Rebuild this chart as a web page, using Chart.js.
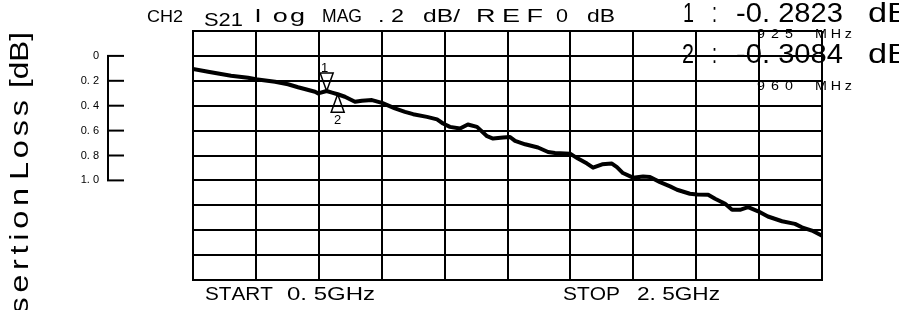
<!DOCTYPE html>
<html>
<head>
<meta charset="utf-8">
<script src="https://cdn.jsdelivr.net/npm/chart.js@4.4.1/dist/chart.umd.min.js"></script>
<style>
  html, body { margin: 0; padding: 0; background: #fff; }
  #wrap { width: 899px; height: 310px; }
</style>
</head>
<body>
<div id="wrap"><canvas id="chart" width="899" height="310"></canvas></div>
<script>
// S21 trace (frequency in GHz, level in dB)
var freqGHz = [
  0.500, 0.548, 0.621, 0.675, 0.700, 0.761, 0.802, 0.834, 0.888, 0.898,
  0.925, 0.942, 0.960, 0.983, 1.015, 1.037, 1.069, 1.101, 1.142, 1.174,
  1.200, 1.244, 1.276, 1.295, 1.317, 1.349, 1.374, 1.403, 1.435, 1.454,
  1.486, 1.508, 1.524, 1.556, 1.597, 1.629, 1.651, 1.699, 1.724, 1.753,
  1.772, 1.801, 1.832, 1.848, 1.867, 1.899, 1.931, 1.953, 1.985, 2.017,
  2.039, 2.080, 2.103, 2.138, 2.160, 2.192, 2.214, 2.239, 2.265, 2.297,
  2.328, 2.373, 2.414, 2.436, 2.468, 2.500
];
var s21dB = [
  -0.105, -0.127, -0.159, -0.175, -0.188, -0.207, -0.228, -0.252, -0.288, -0.301,
  -0.282, -0.295, -0.308, -0.328, -0.369, -0.360, -0.355, -0.377, -0.422, -0.449,
  -0.468, -0.490, -0.510, -0.543, -0.570, -0.583, -0.551, -0.570, -0.645, -0.664,
  -0.656, -0.651, -0.683, -0.710, -0.736, -0.772, -0.780, -0.785, -0.825, -0.865,
  -0.898, -0.871, -0.865, -0.893, -0.941, -0.978, -0.968, -0.973, -1.014, -1.048,
  -1.075, -1.107, -1.113, -1.115, -1.148, -1.188, -1.236, -1.236, -1.215, -1.248,
  -1.290, -1.328, -1.349, -1.377, -1.403, -1.444
];

// markers
var markerFreq = [0.925, 0.960];
var markerVal = [-0.2823, -0.3084];
var markerName = ['1', '2'];

// side scale bar (insertion loss)
var lossTicks = [0, 0.2, 0.4, 0.6, 0.8, 1.0];
var lossLabels = ['0', '0. 2', '0. 4', '0. 6', '0. 8', '1. 0'];

var FONT = '"Liberation Sans", Arial, sans-serif';

// text laid out like the printout: [text, left, right, baseline, size]
var headerText = [
  ['CH2', 147, 183, 22, 17],
  ['S21', 204, 243, 26, 18],
  ['l og', 255, 305, 22, 18],
  ['MAG', 322, 362, 22, 18],
  ['. 2', 378, 404, 22, 18],
  ['dB/', 423, 460, 22, 18],
  ['REF', 476, 543, 22, 18],
  ['0', 556, 568, 22, 18],
  ['dB', 587, 615, 22, 18],
  ['1', 683, 694, 22, 28],
  [':', 712, 717, 22, 28],
  ['-0. 2823', 736, 843, 22, 28],
  ['dB', 868, 910, 22, 28],
  ['925', 757, 793, 38, 13],
  ['MHz', 815, 852, 38, 13],
  ['2', 682, 694, 63, 28],
  [':', 712, 717, 63, 28],
  ['-0. 3084', 736, 843, 63, 28],
  ['dB', 868, 910, 63, 28],
  ['960', 757, 793, 90, 13],
  ['MHz', 815, 852, 90, 13],
  ['START', 205, 273, 300, 18],
  ['0. 5GHz', 287, 375, 300, 18],
  ['STOP', 563, 620, 300, 18],
  ['2. 5GHz', 637, 720, 300, 18]
];

// rotated title, word by word: [word, top y, bottom y]
var titleWords = [
  ['Insertion', 188, 350],
  ['Loss', 100, 180],
  ['[dB]', 32, 88]
];

// wide instrument font: stretch glyphs, spread the rest as gaps
function spaced(ctx, text, x0, x1, y, kmax) {
  var chars = text.split('');
  var w = chars.map(function (c) { return ctx.measureText(c).width; });
  var total = w.reduce(function (a, b) { return a + b; }, 0);
  var k = Math.min(kmax || 1.35, (x1 - x0) / total);
  var gap = chars.length > 1 ? (x1 - x0 - total * k) / (chars.length - 1) : 0;
  var x = x0;
  chars.forEach(function (c, i) {
    ctx.save();
    ctx.translate(x, y);
    ctx.scale(k, 1);
    ctx.fillText(c, 0, 0);
    ctx.restore();
    x += w[i] * k + gap;
  });
}

var printout = {
  id: 'printout',
  afterDraw: function (chart) {
    var ctx = chart.ctx;
    var xs = chart.scales.x, ys = chart.scales.y;
    ctx.save();
    ctx.fillStyle = '#000';
    ctx.strokeStyle = '#000';
    ctx.textBaseline = 'alphabetic';
    ctx.textAlign = 'left';

    headerText.forEach(function (t) {
      ctx.font = t[4] + 'px ' + FONT;
      spaced(ctx, t[0], t[1], t[2], t[3], t[4] < 14 ? 1.1 : 1.5);
    });

    // markers: 1 points down onto the trace, 2 points up
    ctx.lineWidth = 1.5;
    ctx.font = '13px ' + FONT;
    ctx.textAlign = 'center';
    markerFreq.forEach(function (f, i) {
      var px = xs.getPixelForValue(f), py = ys.getPixelForValue(markerVal[i]);
      var dir = i === 0 ? -1 : 1;
      var h = 18, hw = 6.5;
      ctx.beginPath();
      ctx.moveTo(px, py);
      ctx.lineTo(px - hw, py + dir * h);
      ctx.lineTo(px + hw, py + dir * h);
      ctx.closePath();
      ctx.stroke();
      if (dir < 0) ctx.fillText(markerName[i], px - 2, py - h - 1);
      else ctx.fillText(markerName[i], px, py + h + 12);
    });

    // loss scale bar on the left
    ctx.lineWidth = 2;
    var yTop = ys.getPixelForValue(-lossTicks[0]);
    var yBot = ys.getPixelForValue(-lossTicks[lossTicks.length - 1]);
    ctx.beginPath();
    ctx.moveTo(108, yTop);
    ctx.lineTo(108, yBot);
    ctx.stroke();
    ctx.font = '11px ' + FONT;
    ctx.textAlign = 'right';
    ctx.textBaseline = 'middle';
    lossTicks.forEach(function (v, i) {
      var y = ys.getPixelForValue(-v);
      ctx.beginPath();
      ctx.moveTo(107, y);
      ctx.lineTo(124, y);
      ctx.stroke();
      ctx.fillText(lossLabels[i], 99, y);
    });

    // rotated axis title, runs off the bottom edge
    ctx.translate(28, 0);
    ctx.rotate(-Math.PI / 2);
    ctx.font = '26px ' + FONT;
    ctx.textAlign = 'left';
    ctx.textBaseline = 'alphabetic';
    titleWords.forEach(function (t) {
      spaced(ctx, t[0], -t[2], -t[1], 0, 1.25);
    });
    ctx.restore();
  }
};

new Chart(document.getElementById('chart'), {
  type: 'line',
  data: {
    datasets: [{
      data: freqGHz.map(function (f, i) { return { x: f, y: s21dB[i] }; }),
      borderColor: '#000',
      borderWidth: 4,
      borderJoinStyle: 'round',
      borderCapStyle: 'round',
      pointRadius: 0,
      tension: 0,
      fill: false
    }]
  },
  options: {
    responsive: false,
    animation: false,
    events: [],
    layout: { padding: { left: 193, right: 77, top: 31, bottom: 30 } },
    plugins: { legend: { display: false }, tooltip: { enabled: false } },
    scales: {
      x: {
        type: 'linear', min: 0.5, max: 2.5,
        ticks: { display: false, stepSize: 0.2 },
        grid: { color: '#000', lineWidth: 2, drawTicks: false },
        border: { color: '#000', width: 2 },
        afterFit: function (s) { s.height = 0; }
      },
      y: {
        type: 'linear', min: -1.8, max: 0.2,
        ticks: { display: false, stepSize: 0.2 },
        grid: { color: '#000', lineWidth: 2, drawTicks: false },
        border: { color: '#000', width: 2 },
        afterFit: function (s) { s.width = 0; }
      }
    }
  },
  plugins: [printout]
});
</script>
</body>
</html>
